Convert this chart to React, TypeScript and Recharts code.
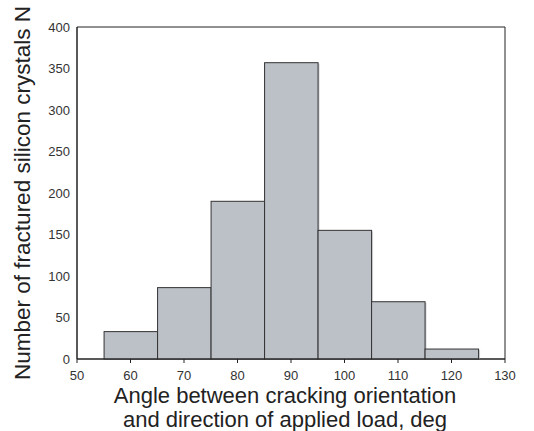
import { ComposedChart, Bar, XAxis, YAxis, Label, ReferenceArea } from "recharts"

// histogram bins: centre angle (deg) and crystal count
const binCenters = [60, 70, 80, 90, 100, 110, 120]
const counts = [33, 86, 190, 357, 155, 69, 12]
const xTicks = [50, 60, 70, 80, 90, 100, 110, 120, 130]
const yTicks = [0, 50, 100, 150, 200, 250, 300, 350, 400]

const W = 534
const H = 431
const M = { top: 27, right: 29, left: 0, bottom: 0 }
const Y_AXIS_W = 77
const X_AXIS_H = 72
const BIN_WIDTH = 10
const plotW = W - M.left - M.right - Y_AXIS_W
const barPx = (plotW / (xTicks[xTicks.length - 1] - xTicks[0])) * BIN_WIDTH

const FONT = "Arial, 'Liberation Sans', Helvetica, sans-serif"

const data = binCenters.map((c, i) => ({ center: c, n: counts[i] }))

// bins touch each other: keep the scaled centre, use the full bin width
function HistBar(props: any) {
    const { x, y, width, height } = props
    if (!height || height <= 0) return null
    const left = x + width / 2 - barPx / 2
    return (
        <g>
            <rect x={left + 1.5} y={y + 1} width={barPx} height={height - 1} fill="#d4d6da" />
            <rect
                x={left}
                y={y}
                width={barPx}
                height={height}
                fill="#bcc0c7"
                stroke="#333"
                strokeWidth={1}
            />
        </g>
    )
}

function XTitle(props: any) {
    const { viewBox } = props
    const cx = viewBox.x + viewBox.width / 2 - 6
    return (
        <text
            x={cx}
            y={viewBox.y + 44}
            textAnchor="middle"
            fontFamily={FONT}
            fontSize={22}
            fill="#222"
        >
            <tspan x={cx}>Angle between cracking orientation</tspan>
            <tspan x={cx} dy={24}>
                and direction of applied load, deg
            </tspan>
        </text>
    )
}

export default function App() {
    const tick = { fill: "#333", fontSize: 13, fontFamily: FONT }
    return (
        <div style={{ position: "absolute", left: 0, top: 0, width: W, height: H, background: "#fff" }}>
            <ComposedChart width={W} height={H} data={data} margin={M} barCategoryGap={0} barGap={0}>
                <XAxis
                    dataKey="center"
                    type="number"
                    domain={[50, 130]}
                    ticks={xTicks}
                    interval={0}
                    height={X_AXIS_H}
                    tick={tick}
                    tickSize={4}
                    tickMargin={8}
                    stroke="#222"
                    tickLine={{ stroke: "#222" }}
                >
                    <Label content={<XTitle />} />
                </XAxis>
                <YAxis
                    type="number"
                    domain={[0, 400]}
                    ticks={yTicks}
                    interval={0}
                    width={Y_AXIS_W}
                    tick={tick}
                    tickLine={false}
                    tickSize={5}
                    tickMargin={2}
                    stroke="#222"
                    label={{
                        value: "Number of fractured  silicon crystals N",
                        angle: -90,
                        position: "insideLeft",
                        offset: 22,
                        style: { textAnchor: "middle", fontFamily: FONT, fontSize: 22.5, fill: "#222", whiteSpace: "pre" }
                    }}
                />
                {/* plot frame */}
                <ReferenceArea
                    x1={50}
                    x2={130}
                    y1={0}
                    y2={400}
                    fill="none"
                    fillOpacity={0}
                    stroke="#222"
                    strokeWidth={1}
                    ifOverflow="visible"
                />
                <Bar
                    dataKey="n"
                    barSize={barPx}
                    shape={<HistBar />}
                    isAnimationActive={false}
                />
            </ComposedChart>
        </div>
    )
}
